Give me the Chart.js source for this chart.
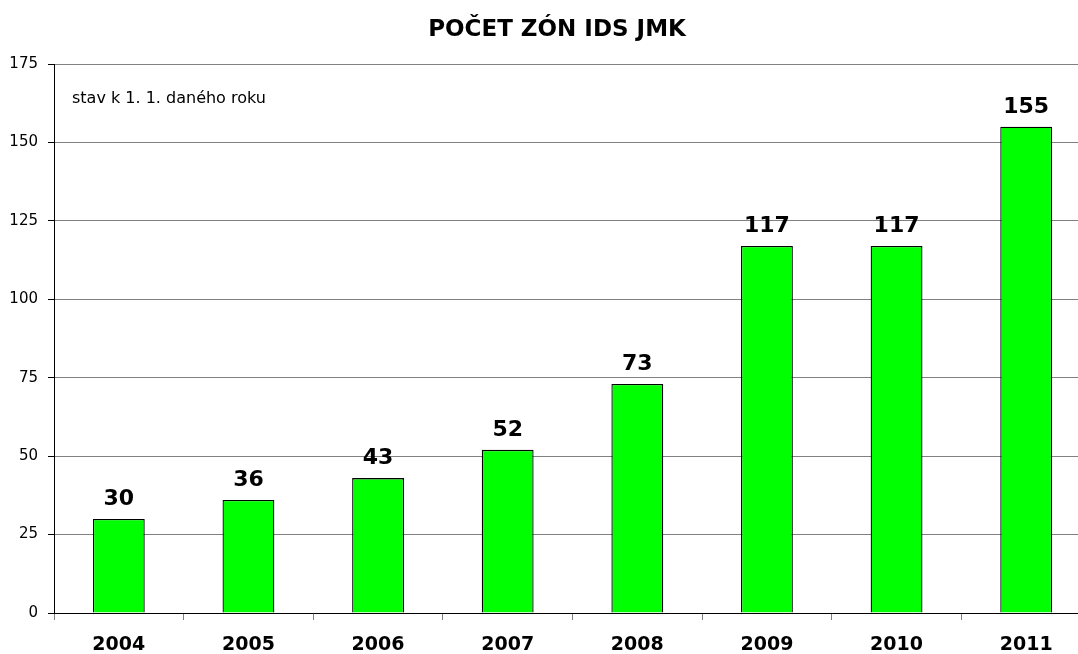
<!DOCTYPE html>
<html><head><meta charset="utf-8">
<script src="https://cdn.jsdelivr.net/npm/chart.js@4/dist/chart.umd.min.js"></script>
<style>html,body{margin:0;padding:0;background:#fff;overflow:hidden;width:1078px;height:654px}#wrap{width:1091px;height:654px;position:relative}</style>
</head><body><div id="wrap"><canvas id="c"></canvas></div>
<script>
const years = ['2004','2005','2006','2007','2008','2009','2010','2011'];
const zones = [30,36,43,52,73,117,117,155];
const yTicks = [0,25,50,75,100,125,150,175];
const titleText = 'POČET ZÓN IDS JMK';
const noteText = 'stav k 1. 1. daného roku';

const overlay = {
  id:'overlay',
  afterDatasetsDraw(chart){
    const ctx = chart.ctx;
    ctx.save();
    ctx.fillStyle = '#000';
    ctx.textAlign = 'center';
    ctx.textBaseline = 'alphabetic';
    ctx.font = 'bold 22px "DejaVu Sans"';
    const meta = chart.getDatasetMeta(0);
    meta.data.forEach((bar,i)=>{
      ctx.fillText(String(zones[i]), bar.x, bar.y - 14);
    });
    ctx.font = 'bold 23px "DejaVu Sans"';
    ctx.fillText(titleText, 557, 36);
    ctx.textAlign = 'left';
    ctx.font = '16px "DejaVu Sans"';
    ctx.fillText(noteText, 72, 103);
    ctx.restore();
  }
};

new Chart(document.getElementById('c'), {
  type:'bar',
  data:{labels:years, datasets:[{data:zones, backgroundColor:'#00FF00', borderColor:'#000', borderWidth:1.3, barPercentage:0.40, categoryPercentage:1}]},
  options:{
    responsive:true, maintainAspectRatio:false, animation:false,
    layout:{padding:{top:64,left:0,right:0,bottom:0}},
    plugins:{legend:{display:false}, tooltip:{enabled:false}, title:{display:false}},
    scales:{
      x:{
        grid:{offset:true, drawOnChartArea:false, tickLength:7, tickColor:'#808080'},
        border:{color:'#000', width:1},
        ticks:{color:'#000', font:{family:'DejaVu Sans', size:19, weight:'bold'}, padding:14, maxRotation:0},
        afterFit(s){ s.height = 41; }
      },
      y:{
        min:0, max:175,
        afterBuildTicks(s){ s.ticks = yTicks.map(v=>({value:v})); },
        grid:{color:'#808080', tickLength:6, tickColor:'#000', lineWidth:1},
        border:{color:'#000', width:1},
        ticks:{color:'#000', font:{family:'DejaVu Sans', size:15}, padding:10},
        afterFit(s){ s.width = 54; }
      }
    }
  },
  plugins:[overlay]
});
</script></body></html>
